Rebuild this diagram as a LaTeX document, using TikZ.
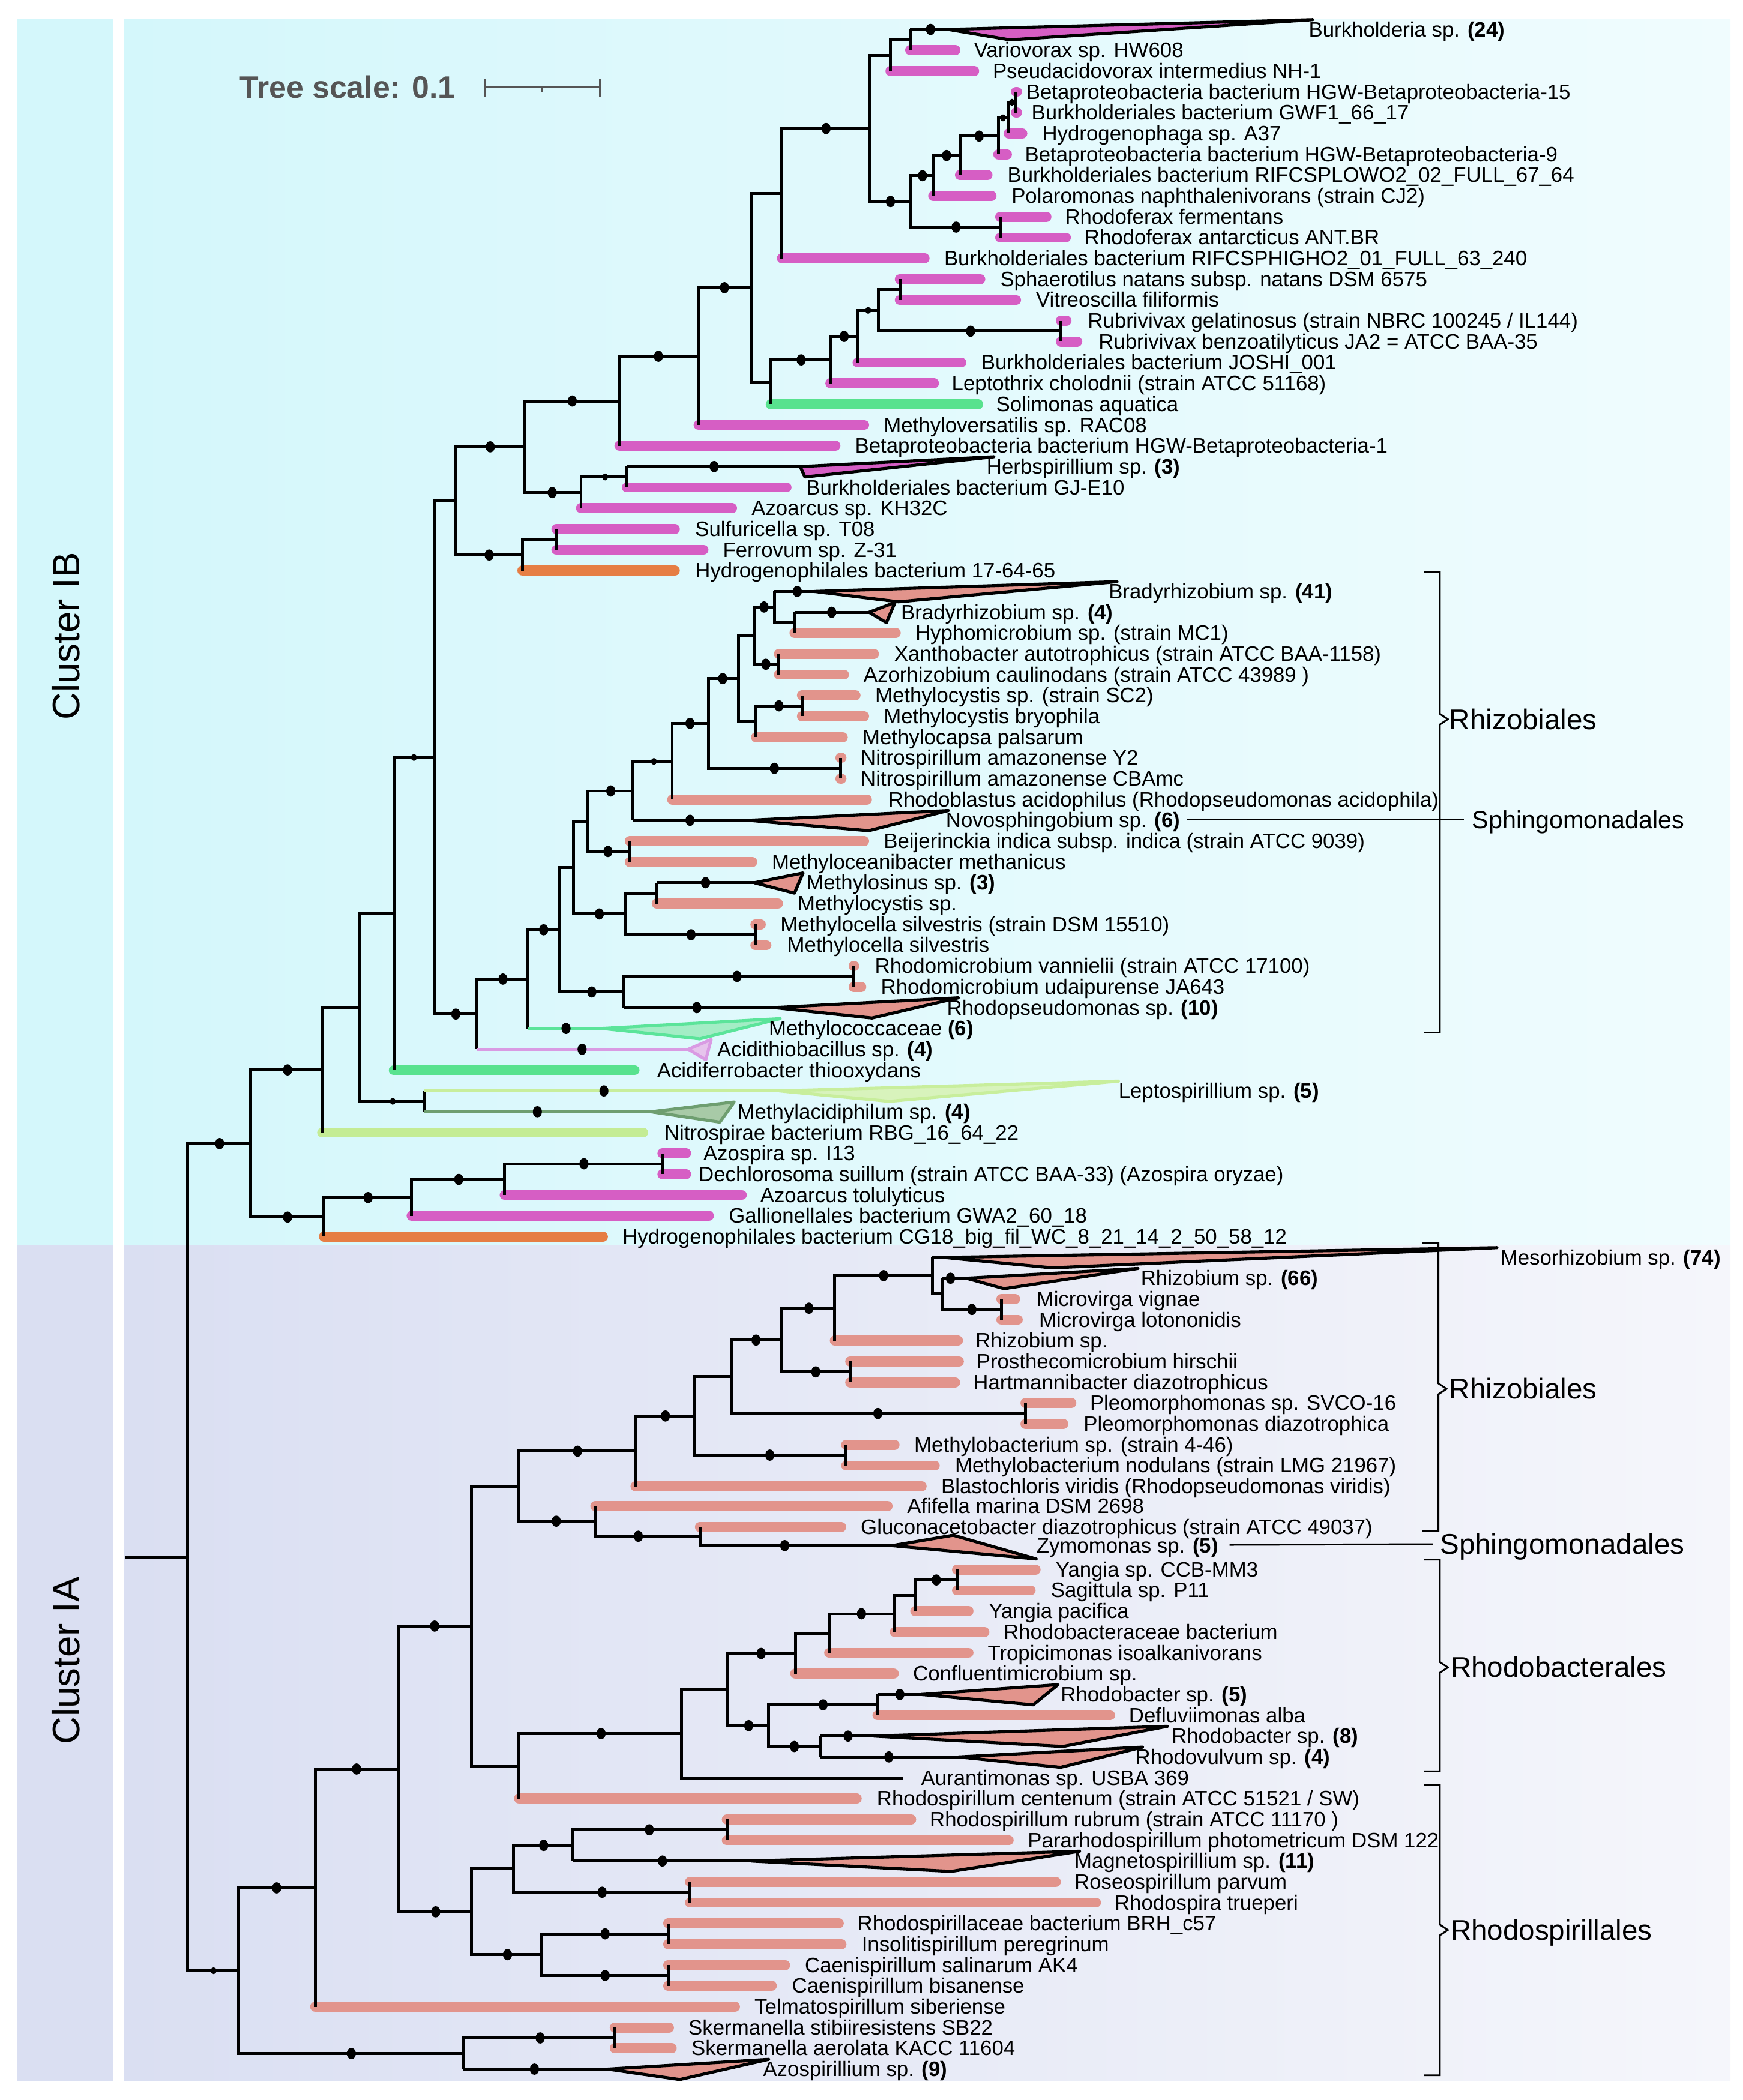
\documentclass[tikz,border=0pt]{standalone}
\usepackage{fontspec}
\setmainfont{Liberation Sans}
\pgfdeclarelayer{bg}
\pgfdeclarelayer{bars}
\pgfsetlayers{bg,bars,main}
\definecolor{beta}{HTML}{D65EC4}
\definecolor{alpha}{HTML}{E2948C}
\definecolor{gam}{HTML}{58E28E}
\definecolor{hyd}{HTML}{E67E44}
\definecolor{nitr}{HTML}{C4EC94}
\definecolor{mcline}{HTML}{5BE49A}
\definecolor{mcfill}{HTML}{A3EDC5}
\definecolor{atline}{HTML}{D99BE3}
\definecolor{atfill}{HTML}{E6C4EC}
\definecolor{lpline}{HTML}{C8EE9C}
\definecolor{lpfill}{HTML}{D8F3BC}
\definecolor{maline}{HTML}{6E9E70}
\definecolor{mafill}{HTML}{A8CAA7}
\definecolor{ibL}{HTML}{D4F7FB}
\definecolor{ibR}{HTML}{F0FCFE}
\definecolor{iaL}{HTML}{DADFF2}
\definecolor{iaR}{HTML}{F5F6FB}
\definecolor{scalegray}{HTML}{555555}
\newcommand\lbf{\fontsize{15.6}{18}\selectfont}
\tikzset{
  br/.style={line width=2.2pt,black},
  bar/.style={line width=7.5pt,line cap=round},
  tri/.style={line width=2.3pt,line join=round},
  lab/.style={anchor=west,inner sep=0pt,text height=12.6pt,text depth=1.8pt,font=\lbf},
  grp/.style={anchor=west,inner sep=0pt,text height=17pt,text depth=2pt,font=\fontsize{21.3}{24}\selectfont},
  brk/.style={line width=1.3pt,black},
  tb/.style={fill=beta,draw=black},
  ta/.style={fill=alpha,draw=black},
  tmc/.style={fill=mcfill,draw=mcline},
  tat/.style={fill=atfill,draw=atline},
  tlp/.style={fill=lpfill,draw=lpline},
  tma/.style={fill=mafill,draw=maline}
}
\newcommand\Nd[3]{\coordinate (#1) at (#2,#3);}
\newcommand\Ed[2]{\draw[br] (#1) |- (#2);}
\newcommand\Dt[2]{\fill (#1,#2) ellipse [x radius=3.4pt,y radius=4.2pt];}
\newcommand\Ds[2]{\fill (#1,#2) ellipse [x radius=2.1pt,y radius=2.6pt];}
% leaf: name, parent, row, tip x, colour, label x, text
\newcommand\Lf[7]{%
  \coordinate (#1) at ({#4-3.75},#3);
  \begin{pgfonlayer}{bars}\draw[bar,draw=#5] (#2 |- #1) -- (#1);\end{pgfonlayer}
  \draw[br] (#2) -- (#2 |- #1);
  \node[lab] (#1t) at (#6,#3) {#7};}
% collapsed clade: name, parent, row, apex x, top x, bottom x, style, label x, text
\newcommand\Tri[9]{%
  \coordinate (#1) at (#4,#3);
  \draw[br] (#2) -- (#2 |- #1);
  \draw[br,#7] (#2 |- #1) -- (#1);
  \filldraw[tri,#7] (#1) -- (#5,{#3-0.47}) -- (#6,{#3+0.5}) -- cycle;
  \node[lab] (#1t) at (#8,#3) {#9};}
\begin{document}
\begin{tikzpicture}[x=1pt]
\begin{scope}[y=-1pt]
\useasboundingbox (0,0) rectangle (1301,1568);
\begin{pgfonlayer}{bg}
\fill[ibL] (12.6,14) rectangle (84.5,929.5);
\shade[left color=ibL,right color=ibR] (92.7,14) rectangle (1292,929.5);
\fill[iaL] (12.6,929.5) rectangle (84.5,1554);
\shade[left color=iaL,right color=iaR] (92.7,929.5) rectangle (1292,1554);
\end{pgfonlayer}
\node[rotate=90,font=\fontsize{28.5}{30}\selectfont,inner sep=0pt] (cIB) at (49,475) {Cluster IB};
\node[rotate=90,font=\fontsize{28.5}{30}\selectfont,inner sep=0pt] (cIA) at (49,1240) {Cluster IA};
% tree scale
\node[anchor=east,inner sep=0pt,text=scalegray,font=\bfseries\fontsize{23.2}{26}\selectfont] (ts) at (340,65) {Tree scale: 0.1};
\coordinate (s1) at (362,65); \coordinate (s2) at (448,65); \coordinate (s3) at (405,65);
\draw[scalegray,line width=1.6pt] (s1) -- (s2);
\draw[scalegray,line width=1.6pt] ([yshift=6pt]s1) -- ([yshift=-7pt]s1);
\draw[scalegray,line width=1.6pt] ([yshift=6pt]s2) -- ([yshift=-7pt]s2);
\draw[scalegray,line width=1.3pt] (s3) -- ([yshift=-4pt]s3);
% brackets
\draw[brk] (1063,427) -- (1075,427) -- (1075,533) -- (1081,537) -- (1075,541) -- (1075,771) -- (1063,771);
\node[grp] (g1) at (1082,537) {Rhizobiales};
\node[grp,font=\fontsize{18.5}{21}\selectfont,text height=15pt] (g2) at (1099,612) {Sphingomonadales};
\draw[brk] (886,612) -- ([xshift=-6pt]g2.west);
\draw[brk] (1062,928) -- (1074,928) -- (1074,1033) -- (1080,1037) -- (1074,1041) -- (1074,1143) -- (1062,1143);
\node[grp] (g3) at (1082,1037) {Rhizobiales};
\node[grp] (g4) at (1075,1153) {Sphingomonadales};
\draw[brk] (918,1153.5) -- ([xshift=-5pt]g4.west);
\draw[brk] (1063,1164.5) -- (1075,1164.5) -- (1075,1241) -- (1081,1245) -- (1075,1249) -- (1075,1322.5) -- (1063,1322.5);
\node[grp] (g5) at (1083,1245) {Rhodobacterales};
\draw[brk] (1063,1332.5) -- (1075,1332.5) -- (1075,1437) -- (1081,1441) -- (1075,1445) -- (1075,1549.5) -- (1063,1549.5);
\node[grp] (g6) at (1083,1441) {Rhodospirillales};
\end{scope}

\begin{scope}[y=-15.54pt,yshift=-6.46pt]
% ---------- internal nodes ----------
\Nd{R0}{93}{74.4} \Nd{R}{140}{74.4}
\Nd{B0}{187}{54.53}
\Nd{B1}{240.5}{50.99} \Nd{B2}{241.8}{58.06}
\Nd{B1a}{268.8}{47.99} \Nd{B1b}{294}{43.49} \Nd{B1c}{316.8}{52.5}
\Nd{B1d}{324.5}{35.98} \Nd{B1e}{340.3}{23.65} \Nd{B1f}{356.2}{48.31}
\Nd{B1g}{391.8}{21.05} \Nd{B1h}{390}{26.25} \Nd{SF}{415.4}{25.5}
\Nd{B1i}{462.5}{18.85} \Nd{B1j}{433.8}{23.25} \Nd{B1k}{468}{22.5}
\Nd{B1l}{521.6}{16.70} \Nd{B1m}{561.1}{13.41} \Nd{B1n}{583.8}{8.88} \Nd{B1o}{575.5}{17.94}
\Nd{B1p}{620}{16.875} \Nd{B1q}{640.3}{15.75} \Nd{B1r}{656}{14.5} \Nd{SV}{671.8}{13.5} \Nd{RB}{792}{15.5}
\Nd{B1s}{649}{5.76} \Nd{B1t}{664.8}{2.25} \Nd{Bv}{679.5}{1.5} \Nd{B1u}{680}{9.27}
\Nd{B1w}{696.7}{8.03} \Nd{B1x}{716.7}{7.06} \Nd{B1y}{745.3}{6.125} \Nd{B1z}{753}{5.25} \Nd{N45}{758.5}{4.5} \Nd{RF}{746.7}{10.5}
\Nd{B2x}{393.9}{46.63} \Nd{B3a}{417.5}{44.26} \Nd{B3b}{428.2}{41.27} \Nd{B3c}{465.9}{47.25} \Nd{RM}{637.4}{46.5}
\Nd{B3d}{438.9}{39.04} \Nd{B3e}{466.8}{43.5} \Nd{Mos}{490.3}{42.5} \Nd{MC}{564}{44.5}
\Nd{B3f}{472.3}{37.59} \Nd{BM}{470.2}{40.5} \Nd{B3g}{501.9}{36.17} \Nd{B3h}{528.9}{34.34} \Nd{NI}{627.5}{36.5}
\Nd{B3i}{551.6}{32.19} \Nd{B3j}{563.2}{30.125} \Nd{Mcys}{564.5}{34.25} \Nd{MCp}{598.8}{33.5}
\Nd{B3k}{578.2}{28.75} \Nd{B3l}{593.2}{29.5} \Nd{XA}{581.6}{31.5}
\Nd{B2a}{307.3}{57.125} \Nd{B2b}{376.8}{56.25} \Nd{B2c}{494.6}{55.5}
\Nd{A0}{178.3}{94.27} \Nd{A1}{235.3}{90.29} \Nd{A2}{345.9}{98.25} \Nd{SK}{459}{97.5}
\Nd{A3}{297.5}{84.58} \Nd{A4}{351.9}{77.715} \Nd{A5}{351.9}{91.44}
\Nd{A6}{383.2}{89.375} \Nd{A7}{404.6}{93.5} \Nd{BI}{498.9}{92.5} \Nd{CC}{498.9}{94.5}
\Nd{A8}{427.3}{88.25} \Nd{RR1}{542.7}{87.5} \Nd{RP}{515.2}{90.5}
\Nd{A9}{387.5}{70.99} \Nd{A10}{387.5}{84.44} \Nd{A11}{508.8}{82.88} \Nd{A12}{542.7}{80.77}
\Nd{A13}{593.8}{79.03} \Nd{A17}{619.1}{78.06} \Nd{A18}{668.1}{77.125} \Nd{A19}{683.3}{76.25} \Nd{YS}{714.5}{75.5}
\Nd{A14}{574}{82.5} \Nd{A15}{655.1}{81.5} \Nd{A16}{612.4}{83.5}
\Nd{A20}{474.5}{69.31} \Nd{A21}{444.5}{72.675} \Nd{A22}{522.6}{73.4} \Nd{A23}{518.2}{67.62} \Nd{MB}{631.8}{69.5}
\Nd{A24}{546.1}{65.73} \Nd{PL}{765.6}{67.5} \Nd{A25}{583.4}{63.97} \Nd{PH}{634.8}{65.5}
\Nd{A26}{623.3}{62.44} \Nd{A27}{696}{60.875} \Nd{A28}{703.6}{61.75} \Nd{MV}{747.6}{62.5}
% ---------- internal edges ----------
\draw[br] (R0) -- (R);
\Ed{R}{B0} \Ed{R}{A0}
\Ed{B0}{B1} \Ed{B0}{B2}
\Ed{B1}{B1a} \Ed{B1a}{B1b} \Ed{B1a}{B1c} \Ed{B1b}{B1d} \Ed{B1d}{B1e} \Ed{B1d}{B1f}
\Ed{B1e}{B1g} \Ed{B1e}{B1h} \Ed{B1h}{SF}
\Ed{B1g}{B1i} \Ed{B1g}{B1j} \Ed{B1j}{B1k}
\Ed{B1i}{B1l} \Ed{B1l}{B1m} \Ed{B1m}{B1n} \Ed{B1m}{B1o} \Ed{B1o}{B1p} \Ed{B1p}{B1q} \Ed{B1q}{B1r} \Ed{B1r}{SV} \Ed{B1r}{RB}
\Ed{B1n}{B1s} \Ed{B1s}{B1t} \Ed{B1s}{B1u} \Ed{B1t}{Bv} \Ed{B1u}{B1w} \Ed{B1u}{RF} \Ed{B1w}{B1x} \Ed{B1x}{B1y} \Ed{B1y}{B1z} \Ed{B1z}{N45}
\Ed{B1f}{B2x} \Ed{B2x}{B3a} \Ed{B3a}{B3b} \Ed{B3a}{B3c} \Ed{B3c}{RM}
\Ed{B3b}{B3d} \Ed{B3b}{B3e} \Ed{B3e}{Mos} \Ed{B3e}{MC}
\Ed{B3d}{B3f} \Ed{B3d}{BM} \Ed{B3f}{B3g} \Ed{B3g}{B3h} \Ed{B3h}{B3i} \Ed{B3h}{NI} \Ed{B3i}{B3j} \Ed{B3i}{Mcys} \Ed{Mcys}{MCp} \Ed{B3j}{B3k} \Ed{B3j}{XA} \Ed{B3k}{B3l}
\Ed{B2}{B2a} \Ed{B2a}{B2b} \Ed{B2b}{B2c}
\Ed{A0}{A1} \Ed{A0}{A2} \Ed{A2}{SK} \Ed{A1}{A3} \Ed{A3}{A4} \Ed{A3}{A5} \Ed{A5}{A6} \Ed{A5}{A7} \Ed{A7}{BI} \Ed{A7}{CC} \Ed{A6}{A8} \Ed{A6}{RP} \Ed{A8}{RR1}
\Ed{A4}{A9} \Ed{A4}{A10} \Ed{A10}{A11} \Ed{A11}{A12} \Ed{A12}{A13} \Ed{A12}{A14} \Ed{A13}{A17} \Ed{A17}{A18} \Ed{A18}{A19} \Ed{A19}{YS} \Ed{A14}{A15} \Ed{A14}{A16}
\Ed{A9}{A20} \Ed{A9}{A21} \Ed{A21}{A22} \Ed{A20}{A23} \Ed{A23}{A24} \Ed{A23}{MB} \Ed{A24}{A25} \Ed{A24}{PL} \Ed{A25}{A26} \Ed{A25}{PH} \Ed{A26}{A27} \Ed{A27}{A28} \Ed{A28}{MV}
% ---------- leaves: cluster IB ----------
\Tri{L1}{Bv}{1}{708}{980}{754}{tb}{977}{Burkholderia sp. \textbf{(24)}}
\Lf{L2}{Bv}{2}{717}{beta}{727}{Variovorax sp. HW608}
\Lf{L3}{B1t}{3}{731}{beta}{741}{Pseudacidovorax intermedius NH-1}
\Lf{L4}{N45}{4}{763}{beta}{766}{Betaproteobacteria bacterium HGW-Betaproteobacteria-15}
\Lf{L5}{N45}{5}{763}{beta}{770}{Burkholderiales bacterium GWF1\_66\_17}
\Lf{L6}{B1z}{6}{767}{beta}{778}{Hydrogenophaga sp. A37}
\Lf{L7}{B1y}{7}{755.5}{beta}{765}{Betaproteobacteria bacterium HGW-Betaproteobacteria-9}
\Lf{L8}{B1x}{8}{741}{beta}{752}{Burkholderiales bacterium RIFCSPLOWO2\_02\_FULL\_67\_64}
\Lf{L9}{B1w}{9}{744}{beta}{755}{Polaromonas naphthalenivorans (strain CJ2)}
\Lf{L10}{RF}{10}{785}{beta}{795}{Rhodoferax fermentans}
\Lf{L11}{RF}{11}{799.5}{beta}{809.5}{Rhodoferax antarcticus ANT.BR}
\Lf{L12}{B1n}{12}{694}{beta}{704.7}{Burkholderiales bacterium RIFCSPHIGHO2\_01\_FULL\_63\_240}
\Lf{L13}{SV}{13}{735.6}{beta}{746.6}{Sphaerotilus natans subsp. natans DSM 6575}
\Lf{L14}{SV}{14}{762.3}{beta}{773.3}{Vitreoscilla filiformis}
\Lf{L15}{RB}{15}{800}{beta}{812}{Rubrivivax gelatinosus (strain NBRC 100245 / IL144)}
\Lf{L16}{RB}{16}{808}{beta}{820}{Rubrivivax benzoatilyticus JA2 = ATCC BAA-35}
\Lf{L17}{B1q}{17}{721.4}{beta}{732.4}{Burkholderiales bacterium JOSHI\_001}
\Lf{L18}{B1p}{18}{701}{beta}{710.4}{Leptothrix cholodnii (strain ATCC 51168)}
\Lf{L19}{B1o}{19}{734}{gam}{743.5}{Solimonas aquatica}
\Lf{L20}{B1l}{20}{648.9}{beta}{659.6}{Methyloversatilis sp. RAC08}
\Lf{L21}{B1i}{21}{627.5}{beta}{638.2}{Betaproteobacteria bacterium HGW-Betaproteobacteria-1}
\Tri{L22}{B1k}{22}{597.5}{742}{601}{tb}{736.5}{Herbspirillium sp. \textbf{(3)}}
\Lf{L23}{B1k}{23}{591}{beta}{601.8}{Burkholderiales bacterium GJ-E10}
\Lf{L24}{B1j}{24}{550.3}{beta}{561}{Azoarcus sp. KH32C}
\Lf{L25}{SF}{25}{507.6}{beta}{518.9}{Sulfuricella sp. T08}
\Lf{L26}{SF}{26}{529}{beta}{539.6}{Ferrovum sp. Z-31}
\Lf{L27}{B1h}{27}{507.6}{hyd}{518.9}{Hydrogenophilales bacterium 17-64-65}
\Tri{L28}{B3k}{28}{608}{834}{670.8}{ta}{827.6}{Bradyrhizobium sp. \textbf{(41)}}
\Tri{L29}{B3l}{29}{648.9}{668.2}{661.8}{ta}{672.5}{Bradyrhizobium sp. \textbf{(4)}}
\Lf{L30}{B3l}{30}{672.5}{alpha}{683.2}{Hyphomicrobium sp. (strain MC1)}
\Lf{L31}{XA}{31}{656.2}{alpha}{667.4}{Xanthobacter autotrophicus (strain ATCC BAA-1158)}
\Lf{L32}{XA}{32}{633.9}{alpha}{644.6}{Azorhizobium caulinodans (strain ATCC 43989 )}
\Lf{L33}{MCp}{33}{642.5}{alpha}{653.2}{Methylocystis sp. (strain SC2)}
\Lf{L34}{MCp}{34}{648.9}{alpha}{659.6}{Methylocystis bryophila}
\Lf{L35}{Mcys}{35}{633}{alpha}{643.8}{Methylocapsa palsarum}
\Lf{L36}{NI}{36}{632}{alpha}{642.5}{Nitrospirillum amazonense Y2}
\Lf{L37}{NI}{37}{632}{alpha}{642.5}{Nitrospirillum amazonense CBAmc}
\Lf{L38}{B3g}{38}{651}{alpha}{663}{Rhodoblastus acidophilus (Rhodopseudomonas acidophila)}
\Tri{L39}{B3f}{39}{559}{708}{648.6}{ta}{706}{Novosphingobium sp. \textbf{(6)}}
\Lf{L40}{BM}{40}{648.9}{alpha}{659.6}{Beijerinckia indica subsp. indica (strain ATCC 9039)}
\Lf{L41}{BM}{41}{565.4}{alpha}{576.1}{Methyloceanibacter methanicus}
\Tri{L42}{Mos}{42}{563.2}{599.6}{593.2}{ta}{601.8}{Methylosinus sp. \textbf{(3)}}
\Lf{L43}{Mos}{43}{584.6}{alpha}{595.4}{Methylocystis sp.}
\Lf{L44}{MC}{44}{571.8}{alpha}{582.5}{Methylocella silvestris (strain DSM 15510)}
\Lf{L45}{MC}{45}{576}{alpha}{587.6}{Methylocella silvestris}
\Lf{L46}{RM}{46}{641.5}{alpha}{653}{Rhodomicrobium vannielii (strain ATCC 17100)}
\Lf{L47}{RM}{47}{646.8}{alpha}{657.5}{Rhodomicrobium udaipurense JA643}
\Tri{L48}{B3c}{48}{578}{715.4}{651}{ta}{706.8}{Rhodopseudomonas sp. \textbf{(10)}}
\Tri{L49}{B2x}{49}{449.6}{582.5}{522.5}{tmc}{573.9}{Methylococcaceae \textbf{(6)}}
\Tri{L50}{B1f}{50}{514}{531}{527}{tat}{535.4}{Acidithiobacillus sp. \textbf{(4)}}
\Lf{L51}{B1b}{51}{477.5}{gam}{490.4}{Acidiferrobacter thiooxydans}
\Tri{L52}{B1c}{52}{582}{835}{664}{tlp}{835}{Leptospirillium sp. \textbf{(5)}}
\Tri{L53}{B1c}{53}{486}{548.2}{537.5}{tma}{550.4}{Methylacidiphilum sp. \textbf{(4)}}
\Lf{L54}{B1}{54}{483.9}{nitr}{495.9}{Nitrospirae bacterium RBG\_16\_64\_22}
\Lf{L55}{B2c}{55}{516}{beta}{525}{Azospira sp. I13}
\Lf{L56}{B2c}{56}{516}{beta}{521.5}{Dechlorosoma suillum (strain ATCC BAA-33) (Azospira oryzae)}
\Lf{L57}{B2b}{57}{557.6}{beta}{567.5}{Azoarcus tolulyticus}
\Lf{L58}{B2a}{58}{533}{beta}{544}{Gallionellales bacterium GWA2\_60\_18}
\Lf{L59}{B2}{59}{453.9}{hyd}{464.6}{Hydrogenophilales bacterium CG18\_big\_fil\_WC\_8\_21\_14\_2\_50\_58\_12}
% ---------- leaves: cluster IA ----------
\Tri{L60}{A27}{60}{705}{1117.6}{785.6}{ta}{1120}{Mesorhizobium sp. \textbf{(74)}}
\Tri{L61}{A28}{61}{721.6}{849.6}{749.6}{ta}{851.6}{Rhizobium sp. \textbf{(66)}}
\Lf{L62}{MV}{62}{761.6}{alpha}{773.6}{Microvirga vignae}
\Lf{L63}{MV}{63}{763.6}{alpha}{775.6}{Microvirga lotononidis}
\Lf{L64}{A26}{64}{718.9}{alpha}{728}{Rhizobium sp.}
\Lf{L65}{PH}{65}{719.6}{alpha}{728.8}{Prosthecomicrobium hirschii}
\Lf{L66}{PH}{66}{716.8}{alpha}{726.4}{Hartmannibacter diazotrophicus}
\Lf{L67}{PL}{67}{803.6}{alpha}{813.6}{Pleomorphomonas sp. SVCO-16}
\Lf{L68}{PL}{68}{797.6}{alpha}{808.8}{Pleomorphomonas diazotrophica}
\Lf{L69}{MB}{69}{671.6}{alpha}{682.4}{Methylobacterium sp. (strain 4-46)}
\Lf{L70}{MB}{70}{701.6}{alpha}{712.8}{Methylobacterium nodulans (strain LMG 21967)}
\Lf{L71}{A20}{71}{691.8}{alpha}{702.5}{Blastochloris viridis (Rhodopseudomonas viridis)}
\Lf{L72}{A21}{71.95}{666.4}{alpha}{677.1}{Afifella marina DSM 2698}
\Lf{L73}{A22}{72.95}{631.8}{alpha}{642.5}{Gluconacetobacter diazotrophicus (strain ATCC 49037)}
\coordinate (L74) at (666,73.85);
\draw[br] (A22) |- (L74);
\filldraw[tri,ta] (L74) -- (711.6,73.35) -- (773.6,74.49) -- cycle;
\node[lab] (L74t) at (773.6,73.85) {Zymomonas sp. \textbf{(5)}};
\Lf{L75}{YS}{75}{776.9}{alpha}{788}{Yangia sp. CCB-MM3}
\Lf{L76}{YS}{76}{773.2}{alpha}{784.4}{Sagittula sp. P11}
\Lf{L77}{A19}{77}{726.8}{alpha}{738}{Yangia pacifica}
\Lf{L78}{A18}{78}{738.7}{alpha}{749.1}{Rhodobacteraceae bacterium}
\Lf{L79}{A17}{79}{726.8}{alpha}{737.2}{Tropicimonas isoalkanivorans}
\Lf{L80}{A13}{80}{671}{alpha}{681.5}{Confluentimicrobium sp.}
\Tri{L81}{A15}{81}{687.8}{789.9}{771.4}{ta}{791.8}{Rhodobacter sp. \textbf{(5)}}
\Lf{L82}{A15}{82}{832.6}{alpha}{842.7}{Defluviimonas alba}
\Tri{L83}{A16}{83}{652.5}{871.6}{793.6}{ta}{874.6}{Rhodobacter sp. \textbf{(8)}}
\Tri{L84}{A16}{84}{715.6}{853}{791.8}{ta}{847.5}{Rhodovulvum sp. \textbf{(4)}}
\coordinate (L85) at (674.6,85);
\draw[br] (A11) |- (L85);
\node[lab] (L85t) at (687.5,85) {Aurantimonas sp. USBA 369};
\Lf{L86}{A10}{86}{643.4}{alpha}{654.5}{Rhodospirillum centenum (strain ATCC 51521 / SW)}
\Lf{L87}{RR1}{87}{684}{alpha}{694}{Rhodospirillum rubrum (strain ATCC 11170 )}
\Lf{L88}{RR1}{88}{756.8}{alpha}{767.2}{Pararhodospirillum photometricum DSM 122}
\Tri{L89}{A8}{89}{561.1}{806}{710}{ta}{802}{Magnetospirillium sp. \textbf{(11)}}
\Lf{L90}{RP}{90}{792}{alpha}{802}{Roseospirillum parvum}
\Lf{L91}{RP}{91}{822}{alpha}{832}{Rhodospira trueperi}
\Lf{L92}{BI}{92}{630}{alpha}{640}{Rhodospirillaceae bacterium BRH\_c57}
\Lf{L93}{BI}{93}{632}{alpha}{643.2}{Insolitispirillum peregrinum}
\Lf{L94}{CC}{94}{590}{alpha}{600.8}{Caenispirillum salinarum AK4}
\Lf{L95}{CC}{95}{580}{alpha}{591.2}{Caenispirillum bisanense}
\Lf{L96}{A1}{96}{552.5}{alpha}{563.2}{Telmatospirillum siberiense}
\Lf{L97}{SK}{97}{503.2}{alpha}{513.9}{Skermanella stibiiresistens SB22}
\Lf{L98}{SK}{98}{505.3}{alpha}{516.1}{Skermanella aerolata KACC 11604}
\Tri{L99}{A2}{99}{453.9}{573.9}{507.5}{ta}{569.6}{Azospirillium sp. \textbf{(9)}}
% ---------- support dots ----------
\Dt{164}{54.53}
\Dt{214.7}{50.99} \Dt{214.7}{58.06}
\Dt{274.8}{57.125} \Dt{342.5}{56.25} \Dt{436}{55.5}
\Ds{293.2}{52.5} \Dt{450.9}{52} \Dt{401.2}{53}
\Ds{309}{35.98} \Dt{340.3}{48.31}
\Dt{366}{21.05} \Dt{365.2}{26.25}
\Dt{427.3}{18.85} \Dt{412.3}{23.25} \Ds{451.8}{22.5} \Dt{533.2}{22}
\Dt{491.6}{16.70} \Dt{540.9}{13.41}
\Dt{598.2}{16.875} \Dt{630.3}{15.75} \Ds{648.2}{14.5} \Dt{724.6}{15.5}
\Dt{616.8}{5.76} \Dt{664.8}{9.27} \Dt{694.7}{1} \Dt{688.7}{8.03} \Dt{713.8}{10.5} \Dt{706.7}{7.06} \Dt{731}{6.125} \Ds{748.8}{5.25} \Ds{755.5}{4.5}
\Dt{375.5}{46.63} \Dt{434.6}{50} \Dt{405.9}{44.26} \Dt{422.6}{49}
\Dt{441.9}{47.25} \Dt{550.3}{46.5} \Dt{520.3}{48}
\Dt{447.5}{43.5} \Dt{516}{44.5} \Dt{526.8}{42}
\Dt{456}{37.59} \Dt{453.9}{40.5} \Ds{488.2}{36.17} \Dt{515.2}{39}
\Dt{515.2}{34.34} \Dt{539.6}{32.19} \Dt{578.2}{36.5}
\Dt{570.5}{28.75} \Dt{571.8}{31.5} \Dt{595.3}{28} \Dt{621}{29} \Dt{581.6}{33.5}
\Ds{159.5}{94.27}
\Dt{206.6}{90.29} \Dt{262.3}{98.25} \Dt{403.3}{97.5} \Dt{399}{99}
\Dt{266.2}{84.58} \Dt{324.5}{77.715} \Dt{325.3}{91.44}
\Dt{378.9}{93.5} \Dt{451.8}{92.5} \Dt{451.8}{94.5}
\Dt{405.9}{88.25} \Dt{449.6}{90.5} \Dt{484.8}{87.5} \Dt{494.6}{89}
\Dt{448.8}{82.88}
\Dt{568.3}{79.03} \Dt{559}{82.5}
\Dt{643.2}{77.125} \Dt{699}{75.5}
\Dt{614.6}{81.5} \Dt{593.1}{83.5} \Dt{671.8}{81} \Dt{633.2}{83} \Dt{663.6}{84}
\Dt{431.2}{69.31} \Dt{415.3}{72.675} \Dt{476.6}{73.4} \Dt{585.9}{73.85}
\Dt{496.8}{67.62} \Dt{574.8}{69.5}
\Dt{564.5}{63.97} \Dt{655.4}{67.5}
\Dt{604}{62.44} \Dt{609.1}{65.5}
\Dt{659.7}{60.875}
\Dt{709.6}{61} \Dt{725.6}{62.5}
\end{scope}
\end{tikzpicture}
\end{document}
